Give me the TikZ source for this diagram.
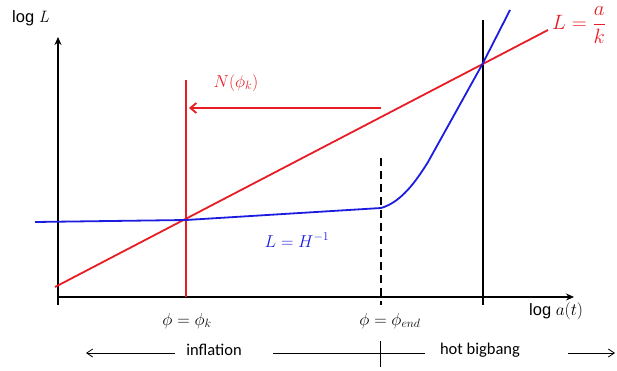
\documentclass[tikz,border=0pt]{standalone}
\usepackage{amsmath}
\usepackage{fontspec}
\setsansfont{Liberation Sans}
\newfontfamily\calib{Carlito}
\usetikzlibrary{arrows.meta}
\definecolor{myred}{RGB}{232,28,36}
\definecolor{myblue}{RGB}{28,28,225}
\tikzset{
  ax/.style={black, line width=1.2pt},
  redl/.style={myred, line width=1.8pt},
  bluel/.style={myblue, line width=1.8pt},
  lab/.style={font=\fontsize{17.28}{20}\selectfont},
  thin/.style={black, line width=0.8pt},
}
\begin{document}
\begin{tikzpicture}[x=1pt,y=-1pt]
\useasboundingbox (0,0) rectangle (617,371);
% axes
\coordinate (o) at (58,297);
\coordinate (ytop) at (58,37);
\coordinate (ybot) at (58,305);
\coordinate (xend) at (574,297);
\draw[ax,-{Stealth[length=8pt,width=7pt]}] (ybot) -- (ytop);
\draw[ax,-{Stealth[length=8pt,width=7pt]}] (o) -- (xend);
\node[lab,anchor=west,inner sep=0pt] (ylab) at (12,18) {\sffamily\fontsize{16.5}{18}\selectfont log \textit{\rmfamily L}};
\node[lab,anchor=west,inner sep=0pt] (xlab) at (529,311) {\sffamily\fontsize{16.5}{18}\selectfont log $a(t)$};
% verticals
\coordinate (k1) at (186,80); \coordinate (k2) at (186,297);
\draw[redl] (k1) -- (k2);
\coordinate (e1) at (381,158); \coordinate (e2) at (381,305);
\draw[ax,dash pattern=on 8pt off 5pt] (e1) -- (e2);
\coordinate (h1) at (483,20); \coordinate (h2) at (483,305);
\draw[ax] (h1) -- (h2);
% red line L=a/k
\coordinate (r1) at (55,287); \coordinate (r2) at (548,30);
\draw[redl] (r1) -- (r2);
\node[text=myred,anchor=west,inner sep=0pt,font=\fontsize{20.74}{22}\selectfont] (lak) at (552,25) {$L=\dfrac{a}{k}$};
% blue curve
\coordinate (b0) at (35,222);
\coordinate (b1) at (186,220);
\coordinate (b2) at (381,208);
\coordinate (b3) at (483,63);
\coordinate (b4) at (510,10);
\draw[bluel] (b0) -- (b1) -- (b2) .. controls (398,203) and (412,188) .. (428,162) -- (b3) -- (b4);
\node[lab,text=myblue] (lh) at (297,240) {$L=H^{-1}$};
% N arrow
\coordinate (n1) at (381,108); \coordinate (n2) at (189,108);
\draw[redl,-{Straight Barb[length=6pt,width=10pt]}] (n1) -- (n2);
\node[lab,text=myred] (nk) at (236,83) {$N(\phi_k)$};
% tick labels
\node[lab] (phk) at (187,321) {$\phi=\phi_k$};
\node[lab] (phe) at (390,321) {$\phi=\phi_{end}$};
% bottom
\coordinate (a1) at (175,353); \coordinate (a2) at (86,353);
\draw[thin,-{Straight Barb[length=6pt,width=8pt]}] (a1) -- (a2);
\node[font=\calib\fontsize{16.5}{19}\selectfont] (inf) at (214,350) {inflation};
\coordinate (l1) at (273,353); \coordinate (l2) at (425,353);
\draw[thin] (l1) -- (l2);
\coordinate (t1) at (380,341); \coordinate (t2) at (380,367);
\draw[thin] (t1) -- (t2);
\node[font=\calib\fontsize{16.5}{19}\selectfont] (hbb) at (480,350) {hot bigbang};
\coordinate (c1) at (568,353); \coordinate (c2) at (615,353);
\draw[thin,-{Straight Barb[length=6pt,width=8pt]}] (c1) -- (c2);
\end{tikzpicture}
\end{document}
